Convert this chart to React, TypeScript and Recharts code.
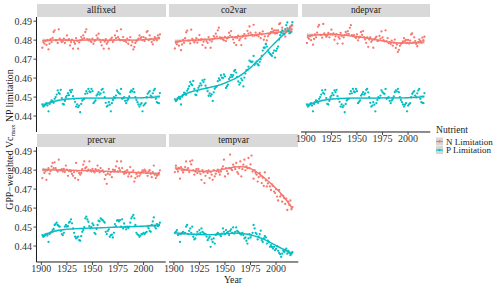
import React from 'react';
import { ComposedChart, Scatter, Line, Area, XAxis, YAxis } from 'recharts';

// ---------- data ----------
const firstYear = 1901;
const nYears = 116;
const years: number[] = Array.from({ length: nYears }, (_, i) => firstYear + i);
const fitYears = [1901, 1906, 1911, 1916, 1921, 1926, 1931, 1936, 1941, 1946, 1951, 1956, 1961, 1966, 1971, 1976, 1981, 1986, 1991, 1996, 2001, 2006, 2011, 2016];

const xTicks = [1900, 1925, 1950, 1975, 2000];
const yTicks = [0.44, 0.45, 0.46, 0.47, 0.48, 0.49];
const nutrients = ['N Limitation', 'P Limitation'];

const allfixedN = [
  0.4760, 0.4790, 0.4782, 0.4795, 0.4775, 0.4800, 0.4751, 0.4781, 0.4805, 0.4790,
  0.4812, 0.4843, 0.4852, 0.4800, 0.4799, 0.4785, 0.4857, 0.4808, 0.4799, 0.4790,
  0.4795, 0.4808, 0.4785, 0.4800, 0.4825, 0.4799, 0.4805, 0.4772, 0.4790, 0.4802,
  0.4755, 0.4790, 0.4781, 0.4811, 0.4795, 0.4755, 0.4788, 0.4799, 0.4816, 0.4805,
  0.4825, 0.4810, 0.4843, 0.4857, 0.4805, 0.4799, 0.4804, 0.4795, 0.4790, 0.4808,
  0.4781, 0.4795, 0.4800, 0.4825, 0.4810, 0.4834, 0.4802, 0.4790, 0.4772, 0.4800,
  0.4755, 0.4793, 0.4805, 0.4781, 0.4790, 0.4755, 0.4799, 0.4805, 0.4813, 0.4790,
  0.4800, 0.4825, 0.4810, 0.4848, 0.4816, 0.4805, 0.4799, 0.4857, 0.4800, 0.4816,
  0.4795, 0.4799, 0.4790, 0.4808, 0.4781, 0.4800, 0.4816, 0.4772, 0.4790, 0.4751,
  0.4764, 0.4785, 0.4795, 0.4800, 0.4808, 0.4825, 0.4810, 0.4816, 0.4800, 0.4816,
  0.4795, 0.4810, 0.4843, 0.4848, 0.4800, 0.4825, 0.4805, 0.4790, 0.4778, 0.4800,
  0.4816, 0.4808, 0.4799, 0.4825, 0.4812, 0.4830,
];
const allfixedP = [
  0.4461, 0.4450, 0.4455, 0.4462, 0.4468, 0.4455, 0.4425, 0.4464, 0.4473, 0.4482,
  0.4478, 0.4470, 0.4491, 0.4500, 0.4513, 0.4535, 0.4522, 0.4517, 0.4538, 0.4495,
  0.4464, 0.4461, 0.4480, 0.4499, 0.4508, 0.4521, 0.4510, 0.4535, 0.4526, 0.4538,
  0.4505, 0.4491, 0.4475, 0.4450, 0.4461, 0.4447, 0.4455, 0.4420, 0.4464, 0.4482,
  0.4488, 0.4491, 0.4517, 0.4531, 0.4520, 0.4543, 0.4530, 0.4526, 0.4543, 0.4531,
  0.4468, 0.4475, 0.4482, 0.4508, 0.4515, 0.4526, 0.4513, 0.4520, 0.4538, 0.4543,
  0.4525, 0.4499, 0.4470, 0.4450, 0.4455, 0.4473, 0.4460, 0.4425, 0.4468, 0.4485,
  0.4499, 0.4495, 0.4508, 0.4535, 0.4526, 0.4520, 0.4517, 0.4543, 0.4491, 0.4495,
  0.4499, 0.4480, 0.4468, 0.4482, 0.4490, 0.4503, 0.4526, 0.4535, 0.4530, 0.4543,
  0.4526, 0.4499, 0.4485, 0.4473, 0.4461, 0.4450, 0.4460, 0.4468, 0.4425, 0.4455,
  0.4462, 0.4468, 0.4499, 0.4517, 0.4525, 0.4531, 0.4508, 0.4499, 0.4520, 0.4535,
  0.4543, 0.4491, 0.4473, 0.4470, 0.4468, 0.4521,
];
const co2varN = [
  0.4756, 0.4786, 0.4778, 0.4791, 0.4771, 0.4796, 0.4747, 0.4777, 0.4801, 0.4786,
  0.4810, 0.4841, 0.4850, 0.4798, 0.4797, 0.4783, 0.4855, 0.4806, 0.4797, 0.4788,
  0.4797, 0.4810, 0.4787, 0.4802, 0.4827, 0.4801, 0.4807, 0.4774, 0.4792, 0.4804,
  0.4760, 0.4795, 0.4786, 0.4816, 0.4800, 0.4760, 0.4793, 0.4804, 0.4821, 0.4810,
  0.4834, 0.4819, 0.4852, 0.4866, 0.4814, 0.4808, 0.4813, 0.4804, 0.4799, 0.4817,
  0.4795, 0.4809, 0.4814, 0.4839, 0.4824, 0.4848, 0.4816, 0.4804, 0.4786, 0.4814,
  0.4774, 0.4812, 0.4824, 0.4800, 0.4809, 0.4774, 0.4818, 0.4824, 0.4832, 0.4809,
  0.4824, 0.4849, 0.4834, 0.4872, 0.4840, 0.4829, 0.4823, 0.4881, 0.4824, 0.4840,
  0.4825, 0.4829, 0.4820, 0.4838, 0.4811, 0.4830, 0.4846, 0.4802, 0.4820, 0.4781,
  0.4799, 0.4820, 0.4830, 0.4835, 0.4843, 0.4860, 0.4845, 0.4851, 0.4835, 0.4851,
  0.4836, 0.4851, 0.4884, 0.4889, 0.4841, 0.4866, 0.4846, 0.4831, 0.4819, 0.4841,
  0.4863, 0.4855, 0.4846, 0.4872, 0.4859, 0.4877,
];
const co2varP = [
  0.4488, 0.4479, 0.4485, 0.4494, 0.4501, 0.4490, 0.4461, 0.4502, 0.4512, 0.4523,
  0.4520, 0.4512, 0.4534, 0.4544, 0.4557, 0.4580, 0.4568, 0.4563, 0.4585, 0.4543,
  0.4513, 0.4510, 0.4530, 0.4549, 0.4559, 0.4572, 0.4562, 0.4588, 0.4579, 0.4592,
  0.4560, 0.4547, 0.4531, 0.4507, 0.4519, 0.4506, 0.4514, 0.4480, 0.4525, 0.4544,
  0.4552, 0.4556, 0.4584, 0.4599, 0.4590, 0.4615, 0.4603, 0.4601, 0.4619, 0.4609,
  0.4548, 0.4557, 0.4566, 0.4595, 0.4604, 0.4617, 0.4606, 0.4615, 0.4636, 0.4643,
  0.4629, 0.4607, 0.4582, 0.4566, 0.4575, 0.4597, 0.4588, 0.4556, 0.4603, 0.4624,
  0.4642, 0.4643, 0.4660, 0.4692, 0.4687, 0.4686, 0.4687, 0.4717, 0.4670, 0.4678,
  0.4687, 0.4673, 0.4667, 0.4686, 0.4699, 0.4717, 0.4745, 0.4760, 0.4760, 0.4778,
  0.4766, 0.4745, 0.4736, 0.4729, 0.4723, 0.4717, 0.4732, 0.4745, 0.4708, 0.4743,
  0.4755, 0.4766, 0.4803, 0.4826, 0.4839, 0.4851, 0.4834, 0.4831, 0.4858, 0.4879,
  0.4893, 0.4848, 0.4836, 0.4839, 0.4844, 0.4895,
];
const ndepvarN = [
  0.4785, 0.4815, 0.4807, 0.4820, 0.4800, 0.4825, 0.4776, 0.4806, 0.4830, 0.4815,
  0.4840, 0.4871, 0.4880, 0.4828, 0.4827, 0.4813, 0.4885, 0.4836, 0.4827, 0.4818,
  0.4825, 0.4838, 0.4815, 0.4830, 0.4855, 0.4829, 0.4835, 0.4802, 0.4820, 0.4832,
  0.4782, 0.4817, 0.4808, 0.4838, 0.4822, 0.4782, 0.4815, 0.4826, 0.4843, 0.4832,
  0.4847, 0.4832, 0.4865, 0.4879, 0.4827, 0.4821, 0.4826, 0.4817, 0.4812, 0.4830,
  0.4799, 0.4813, 0.4818, 0.4843, 0.4828, 0.4848, 0.4816, 0.4804, 0.4786, 0.4814,
  0.4765, 0.4803, 0.4815, 0.4791, 0.4800, 0.4760, 0.4804, 0.4810, 0.4818, 0.4795,
  0.4798, 0.4823, 0.4808, 0.4846, 0.4814, 0.4800, 0.4794, 0.4852, 0.4795, 0.4811,
  0.4785, 0.4789, 0.4780, 0.4798, 0.4771, 0.4787, 0.4803, 0.4759, 0.4777, 0.4738,
  0.4749, 0.4770, 0.4780, 0.4785, 0.4793, 0.4810, 0.4795, 0.4801, 0.4785, 0.4801,
  0.4782, 0.4797, 0.4830, 0.4835, 0.4787, 0.4815, 0.4795, 0.4780, 0.4768, 0.4790,
  0.4804, 0.4796, 0.4787, 0.4813, 0.4800, 0.4818,
];
const ndepvarP = [
  0.4461, 0.4450, 0.4455, 0.4462, 0.4468, 0.4455, 0.4425, 0.4464, 0.4473, 0.4482,
  0.4478, 0.4470, 0.4491, 0.4500, 0.4513, 0.4535, 0.4522, 0.4517, 0.4538, 0.4495,
  0.4464, 0.4461, 0.4480, 0.4499, 0.4508, 0.4521, 0.4510, 0.4535, 0.4526, 0.4538,
  0.4505, 0.4491, 0.4475, 0.4450, 0.4461, 0.4447, 0.4455, 0.4420, 0.4464, 0.4482,
  0.4488, 0.4491, 0.4517, 0.4531, 0.4520, 0.4543, 0.4530, 0.4526, 0.4543, 0.4531,
  0.4468, 0.4475, 0.4482, 0.4508, 0.4515, 0.4526, 0.4513, 0.4520, 0.4538, 0.4543,
  0.4525, 0.4499, 0.4470, 0.4450, 0.4455, 0.4473, 0.4460, 0.4425, 0.4468, 0.4485,
  0.4499, 0.4495, 0.4508, 0.4535, 0.4526, 0.4520, 0.4517, 0.4543, 0.4491, 0.4495,
  0.4499, 0.4480, 0.4468, 0.4482, 0.4490, 0.4503, 0.4526, 0.4535, 0.4530, 0.4543,
  0.4526, 0.4499, 0.4485, 0.4473, 0.4461, 0.4450, 0.4460, 0.4468, 0.4425, 0.4455,
  0.4462, 0.4468, 0.4499, 0.4517, 0.4525, 0.4531, 0.4508, 0.4499, 0.4520, 0.4535,
  0.4543, 0.4491, 0.4473, 0.4470, 0.4468, 0.4521,
];
const precvarN = [
  0.4758, 0.4802, 0.4785, 0.4795, 0.4749, 0.4800, 0.4811, 0.4781, 0.4795, 0.4820,
  0.4838, 0.4810, 0.4841, 0.4811, 0.4799, 0.4793, 0.4855, 0.4800, 0.4799, 0.4805,
  0.4793, 0.4806, 0.4790, 0.4824, 0.4802, 0.4770, 0.4795, 0.4799, 0.4793, 0.4780,
  0.4770, 0.4790, 0.4758, 0.4838, 0.4795, 0.4749, 0.4785, 0.4776, 0.4785, 0.4805,
  0.4829, 0.4846, 0.4810, 0.4816, 0.4795, 0.4802, 0.4846, 0.4800, 0.4793, 0.4806,
  0.4795, 0.4788, 0.4805, 0.4799, 0.4824, 0.4800, 0.4788, 0.4811, 0.4795, 0.4799,
  0.4790, 0.4753, 0.4775, 0.4728, 0.4781, 0.4806, 0.4776, 0.4790, 0.4763, 0.4802,
  0.4793, 0.4800, 0.4820, 0.4846, 0.4793, 0.4810, 0.4799, 0.4846, 0.4811, 0.4790,
  0.4781, 0.4793, 0.4785, 0.4800, 0.4767, 0.4781, 0.4816, 0.4767, 0.4790, 0.4799,
  0.4740, 0.4758, 0.4780, 0.4767, 0.4788, 0.4770, 0.4781, 0.4790, 0.4799, 0.4793,
  0.4802, 0.4795, 0.4785, 0.4770, 0.4793, 0.4800, 0.4781, 0.4763, 0.4790, 0.4824,
  0.4776, 0.4758, 0.4770, 0.4776, 0.4785, 0.4799,
];
const precvarP = [
  0.4458, 0.4449, 0.4452, 0.4460, 0.4463, 0.4455, 0.4422, 0.4463, 0.4470, 0.4475,
  0.4484, 0.4490, 0.4511, 0.4516, 0.4523, 0.4511, 0.4505, 0.4502, 0.4480, 0.4463,
  0.4458, 0.4470, 0.4502, 0.4511, 0.4502, 0.4505, 0.4523, 0.4528, 0.4541, 0.4520,
  0.4493, 0.4470, 0.4449, 0.4440, 0.4445, 0.4450, 0.4431, 0.4428, 0.4452, 0.4475,
  0.4484, 0.4500, 0.4546, 0.4555, 0.4540, 0.4528, 0.4505, 0.4493, 0.4500, 0.4519,
  0.4510, 0.4470, 0.4463, 0.4490, 0.4511, 0.4534, 0.4530, 0.4546, 0.4540, 0.4537,
  0.4530, 0.4523, 0.4475, 0.4463, 0.4480, 0.4488, 0.4449, 0.4458, 0.4460, 0.4445,
  0.4470, 0.4516, 0.4505, 0.4534, 0.4537, 0.4530, 0.4537, 0.4502, 0.4541, 0.4493,
  0.4519, 0.4500, 0.4488, 0.4502, 0.4495, 0.4502, 0.4523, 0.4546, 0.4555, 0.4564,
  0.4546, 0.4511, 0.4470, 0.4462, 0.4458, 0.4449, 0.4455, 0.4463, 0.4463, 0.4470,
  0.4463, 0.4470, 0.4475, 0.4502, 0.4493, 0.4480, 0.4475, 0.4511, 0.4530, 0.4551,
  0.4502, 0.4493, 0.4516, 0.4505, 0.4511, 0.4523,
];
const tempvarN = [
  0.4790, 0.4824, 0.4805, 0.4793, 0.4810, 0.4755, 0.4816, 0.4799, 0.4788, 0.4800,
  0.4816, 0.4846, 0.4802, 0.4811, 0.4790, 0.4846, 0.4830, 0.4852, 0.4800, 0.4776,
  0.4793, 0.4805, 0.4785, 0.4806, 0.4793, 0.4780, 0.4749, 0.4800, 0.4788, 0.4732,
  0.4770, 0.4795, 0.4785, 0.4799, 0.4758, 0.4790, 0.4776, 0.4749, 0.4800, 0.4767,
  0.4781, 0.4795, 0.4802, 0.4790, 0.4776, 0.4793, 0.4808, 0.4820, 0.4855, 0.4767,
  0.4811, 0.4795, 0.4781, 0.4810, 0.4882, 0.4806, 0.4800, 0.4829, 0.4816, 0.4805,
  0.4838, 0.4790, 0.4781, 0.4811, 0.4846, 0.4767, 0.4805, 0.4829, 0.4855, 0.4799,
  0.4820, 0.4810, 0.4864, 0.4811, 0.4830, 0.4877, 0.4793, 0.4755, 0.4800, 0.4785,
  0.4776, 0.4740, 0.4763, 0.4785, 0.4770, 0.4732, 0.4760, 0.4717, 0.4788, 0.4746,
  0.4714, 0.4730, 0.4758, 0.4714, 0.4696, 0.4725, 0.4717, 0.4687, 0.4679, 0.4700,
  0.4661, 0.4640, 0.4696, 0.4661, 0.4670, 0.4634, 0.4664, 0.4652, 0.4622, 0.4650,
  0.4590, 0.4634, 0.4617, 0.4640, 0.4594, 0.4605,
];
const tempvarP = [
  0.4470, 0.4475, 0.4484, 0.4458, 0.4463, 0.4422, 0.4463, 0.4470, 0.4475, 0.4466,
  0.4470, 0.4502, 0.4511, 0.4463, 0.4480, 0.4493, 0.4470, 0.4502, 0.4449, 0.4435,
  0.4440, 0.4460, 0.4475, 0.4463, 0.4484, 0.4470, 0.4493, 0.4475, 0.4470, 0.4463,
  0.4463, 0.4450, 0.4431, 0.4440, 0.4449, 0.4396, 0.4435, 0.4422, 0.4440, 0.4413,
  0.4458, 0.4463, 0.4470, 0.4463, 0.4460, 0.4452, 0.4465, 0.4493, 0.4475, 0.4463,
  0.4484, 0.4470, 0.4475, 0.4458, 0.4480, 0.4488, 0.4470, 0.4498, 0.4466, 0.4475,
  0.4498, 0.4480, 0.4475, 0.4470, 0.4463, 0.4460, 0.4470, 0.4458, 0.4440, 0.4445,
  0.4428, 0.4413, 0.4440, 0.4463, 0.4445, 0.4455, 0.4470, 0.4511, 0.4493, 0.4470,
  0.4463, 0.4435, 0.4450, 0.4463, 0.4481, 0.4431, 0.4422, 0.4440, 0.4452, 0.4445,
  0.4413, 0.4428, 0.4420, 0.4396, 0.4405, 0.4395, 0.4387, 0.4396, 0.4378, 0.4385,
  0.4399, 0.4375, 0.4364, 0.4357, 0.4343, 0.4360, 0.4375, 0.4369, 0.4380, 0.4387,
  0.4360, 0.4375, 0.4365, 0.4352, 0.4364, 0.4368,
];

// loess fits (read at fitYears) and CI half width
const allfixedNFit = [0.4798, 0.4799, 0.4800, 0.4801, 0.4801, 0.4800, 0.4799, 0.4799, 0.4800, 0.4801, 0.4801, 0.4801, 0.4800, 0.4799, 0.4800, 0.4801, 0.4801, 0.4800, 0.4800, 0.4801, 0.4803, 0.4805, 0.4807, 0.4810];
const allfixedPFit = [0.4455, 0.4466, 0.4475, 0.4482, 0.4487, 0.4490, 0.4492, 0.4493, 0.4494, 0.4495, 0.4495, 0.4495, 0.4495, 0.4495, 0.4495, 0.4496, 0.4496, 0.4496, 0.4496, 0.4496, 0.4497, 0.4498, 0.4500, 0.4503];
const co2varNFit = [0.4794, 0.4795, 0.4797, 0.4799, 0.4800, 0.4802, 0.4804, 0.4806, 0.4808, 0.4810, 0.4813, 0.4815, 0.4818, 0.4820, 0.4823, 0.4826, 0.4829, 0.4832, 0.4835, 0.4838, 0.4841, 0.4845, 0.4850, 0.4856];
const co2varPFit = [0.4482, 0.4500, 0.4515, 0.4526, 0.4534, 0.4540, 0.4546, 0.4552, 0.4558, 0.4566, 0.4576, 0.4588, 0.4601, 0.4617, 0.4638, 0.4660, 0.4687, 0.4713, 0.4741, 0.4770, 0.4797, 0.4823, 0.4850, 0.4885];
const ndepvarNFit = [0.4825, 0.4826, 0.4828, 0.4829, 0.4830, 0.4831, 0.4829, 0.4827, 0.4824, 0.4821, 0.4818, 0.4814, 0.4810, 0.4805, 0.4800, 0.4795, 0.4790, 0.4787, 0.4785, 0.4785, 0.4785, 0.4786, 0.4788, 0.4791];
const ndepvarPFit = [0.4455, 0.4466, 0.4475, 0.4482, 0.4487, 0.4490, 0.4492, 0.4493, 0.4494, 0.4495, 0.4495, 0.4495, 0.4495, 0.4495, 0.4495, 0.4496, 0.4496, 0.4496, 0.4496, 0.4496, 0.4497, 0.4498, 0.4500, 0.4503];
const precvarNFit = [0.4802, 0.4802, 0.4801, 0.4801, 0.4800, 0.4800, 0.4799, 0.4798, 0.4798, 0.4797, 0.4796, 0.4795, 0.4794, 0.4793, 0.4792, 0.4791, 0.4790, 0.4789, 0.4788, 0.4787, 0.4786, 0.4784, 0.4782, 0.4780];
const precvarPFit = [0.4453, 0.4465, 0.4475, 0.4482, 0.4486, 0.4489, 0.4491, 0.4492, 0.4493, 0.4494, 0.4495, 0.4496, 0.4497, 0.4498, 0.4499, 0.4500, 0.4501, 0.4502, 0.4503, 0.4504, 0.4505, 0.4507, 0.4509, 0.4511];
const tempvarNFit = [0.4812, 0.4808, 0.4803, 0.4799, 0.4796, 0.4794, 0.4793, 0.4794, 0.4797, 0.4802, 0.4808, 0.4813, 0.4817, 0.4819, 0.4815, 0.4806, 0.4790, 0.4770, 0.4748, 0.4724, 0.4698, 0.4670, 0.4636, 0.4598];
const tempvarPFit = [0.4470, 0.4467, 0.4465, 0.4463, 0.4462, 0.4461, 0.4460, 0.4460, 0.4461, 0.4463, 0.4465, 0.4467, 0.4468, 0.4467, 0.4463, 0.4458, 0.4450, 0.4440, 0.4428, 0.4414, 0.4400, 0.4386, 0.4372, 0.4357];
const ciHalf = [0.0011, 0.0008, 0.0006, 0.0005, 0.0005, 0.0004, 0.0004, 0.0004, 0.0004, 0.0004, 0.0004, 0.0004, 0.0004, 0.0004, 0.0004, 0.0004, 0.0004, 0.0004, 0.0004, 0.0004, 0.0005, 0.0006, 0.0008, 0.0011];

// ---------- layout / style ----------
const FONT = '"Liberation Serif", "Times New Roman", serif';
const COL_N = '#F8766D';
const COL_P = '#00BFC4';
const PW = 129.3;
const PH = 115;
const colLefts = [36.5, 168.8, 301.1];
const rowTops = [17, 147];
const stripTops = [4, 134];
const STRIP_H = 13;
const X_DOMAIN: [number, number] = [1895.25, 2021.75];
const Y_DOMAIN: [number, number] = [0.4316, 0.4922];

const toPoints = (vals: number[]) => years.map((year, i) => ({ year, v: vals[i] }));
const toFit = (fit: number[]) =>
  fitYears.map((year, i) => ({ year, fit: fit[i], band: [fit[i] - ciHalf[i], fit[i] + ciHalf[i]] }));

const panels = [
  { name: 'allfixed', col: 0, row: 0, showY: true, showX: false, n: allfixedN, p: allfixedP, nFit: allfixedNFit, pFit: allfixedPFit },
  { name: 'co2var', col: 1, row: 0, showY: false, showX: false, n: co2varN, p: co2varP, nFit: co2varNFit, pFit: co2varPFit },
  { name: 'ndepvar', col: 2, row: 0, showY: false, showX: true, n: ndepvarN, p: ndepvarP, nFit: ndepvarNFit, pFit: ndepvarPFit },
  { name: 'precvar', col: 0, row: 1, showY: true, showX: true, n: precvarN, p: precvarP, nFit: precvarNFit, pFit: precvarPFit },
  { name: 'tempvar', col: 1, row: 1, showY: false, showX: true, n: tempvarN, p: tempvarP, nFit: tempvarNFit, pFit: tempvarPFit },
];

const dot = (color: string) => (props: any) =>
  props.cx == null ? <g /> : <circle cx={props.cx} cy={props.cy} r={1.15} fill={color} />;

const tickStyle = { fontFamily: FONT, fontSize: 10, fill: '#333333' };

function Panel({ cfg }: { cfg: (typeof panels)[number] }) {
  const yW = cfg.showY ? 36.5 : 0;
  const xH = cfg.showX ? 22 : 0;
  const left = colLefts[cfg.col] - yW;
  const top = rowTops[cfg.row];
  const nPts = toPoints(cfg.n);
  const pPts = toPoints(cfg.p);
  const nFit = toFit(cfg.nFit);
  const pFit = toFit(cfg.pFit);
  return (
    <div style={{ position: 'absolute', left, top, width: PW + yW, height: PH + xH }}>
      <ComposedChart width={PW + yW} height={PH + xH} margin={{ top: 0, right: 0, bottom: 0, left: 0 }}>
        <XAxis
          type="number"
          dataKey="year"
          domain={X_DOMAIN}
          allowDataOverflow
          ticks={xTicks}
          interval={0}
          hide={!cfg.showX}
          height={xH}
          tickSize={3}
          tickMargin={0}
          tick={tickStyle}
          axisLine={{ stroke: '#000', strokeWidth: 0.9 }}
          tickLine={{ stroke: '#333', strokeWidth: 0.9 }}
        />
        <YAxis
          type="number"
          domain={Y_DOMAIN}
          allowDataOverflow
          ticks={yTicks}
          interval={0}
          hide={!cfg.showY}
          width={yW}
          tickSize={3}
          tickMargin={1.5}
          tick={tickStyle}
          tickFormatter={(v: number) => v.toFixed(2)}
          axisLine={{ stroke: '#000', strokeWidth: 0.9 }}
          tickLine={{ stroke: '#333', strokeWidth: 0.9 }}
        />
        <Scatter name={nutrients[0]} data={nPts} dataKey="v" fill={COL_N} shape={dot(COL_N)} isAnimationActive={false} />
        <Scatter name={nutrients[1]} data={pPts} dataKey="v" fill={COL_P} shape={dot(COL_P)} isAnimationActive={false} />
        <Area data={nFit} dataKey="band" type="monotone" stroke="none" fill="#999999" fillOpacity={0.4} isAnimationActive={false} dot={false} activeDot={false} />
        <Area data={pFit} dataKey="band" type="monotone" stroke="none" fill="#999999" fillOpacity={0.4} isAnimationActive={false} dot={false} activeDot={false} />
        <Line data={nFit} dataKey="fit" type="monotone" stroke={COL_N} strokeWidth={1.3} dot={false} activeDot={false} isAnimationActive={false} />
        <Line data={pFit} dataKey="fit" type="monotone" stroke={COL_P} strokeWidth={1.3} dot={false} activeDot={false} isAnimationActive={false} />
      </ComposedChart>
    </div>
  );
}

function Strip({ cfg }: { cfg: (typeof panels)[number] }) {
  return (
    <div
      style={{
        position: 'absolute',
        left: colLefts[cfg.col] + 0.5,
        top: stripTops[cfg.row],
        width: PW - 0.5,
        height: STRIP_H,
        background: '#D9D9D9',
        color: '#1A1A1A',
        fontFamily: FONT,
        fontSize: 9.4,
        lineHeight: `${STRIP_H}px`,
        textAlign: 'center',
      }}
    >
      {cfg.name}
    </div>
  );
}

export default function App() {
  return (
    <div style={{ position: 'absolute', left: 0, top: 0, width: 500, height: 287, background: '#fff', overflow: 'hidden' }}>
      <style>{'.recharts-surface{overflow:visible}.recharts-wrapper{overflow:visible}'}</style>
      {panels.map((c) => (
        <Strip key={'s' + c.name} cfg={c} />
      ))}
      {panels.map((c) => (
        <Panel key={c.name} cfg={c} />
      ))}
      <svg width={500} height={287} style={{ position: 'absolute', left: 0, top: 0, pointerEvents: 'none' }}>
        <text x={233} y={282.5} textAnchor="middle" fontFamily={FONT} fontSize={9.8} fill="#1A1A1A">
          Year
        </text>
        <text
          transform="translate(13.2,139.5) rotate(-90)"
          textAnchor="middle"
          fontFamily={FONT}
          fontSize={9.8}
          fill="#1A1A1A"
        >
          GPP−weighted Vc
          <tspan fontSize={7} dy={2}>max</tspan>
          <tspan dy={-2}> NP limitation</tspan>
        </text>
        <text x={436} y={132.8} fontFamily={FONT} fontSize={9.6} fill="#1A1A1A">
          Nutrient
        </text>
        {nutrients.map((lab, i) => {
          const cy = 141.5 + i * 8.6;
          const col = i === 0 ? COL_N : COL_P;
          return (
            <g key={lab}>
              <rect x={436} y={cy - 4} width={7} height={8} fill="#D6D6D6" />
              <line x1={436} x2={443} y1={cy} y2={cy} stroke={col} strokeWidth={1.1} />
              <circle cx={439.5} cy={cy} r={1.15} fill={col} />
              <text x={446} y={cy + 3.2} fontFamily={FONT} fontSize={9} fill="#1A1A1A">
                {lab}
              </text>
            </g>
          );
        })}
      </svg>
    </div>
  );
}
